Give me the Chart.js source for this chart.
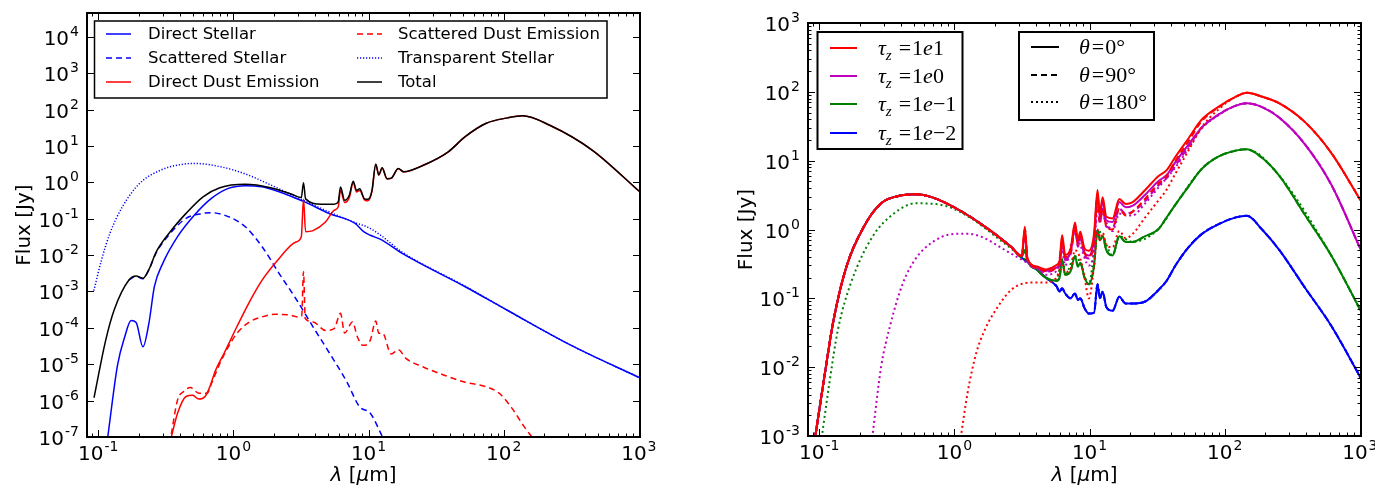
<!DOCTYPE html>
<html><head><meta charset="utf-8">
<script src="https://cdn.jsdelivr.net/npm/chart.js@4.4.1/dist/chart.umd.min.js"></script>
<style>
html,body{margin:0;padding:0;background:#fff;}
#wrap{position:relative;width:1375px;height:488px;overflow:hidden;background:#fff;}
canvas{position:absolute;top:0;}
</style></head><body>
<div id="wrap">
<canvas id="c1" width="660" height="488" style="left:0px"></canvas>
<canvas id="c2" width="685" height="488" style="left:690px"></canvas>
</div>
<script>
// ---------------- axis ranges & tick labels ----------------
const xRange = [0.0825, 1020];
const yRangeL = [1e-7, 4.5e4];
const yRangeR = [1e-3, 1e3];
const xTickExp = [-1, 0, 1, 2, 3];
const yTickExpL = [-7, -6, -5, -4, -3, -2, -1, 0, 1, 2, 3, 4];
const yTickExpR = [-3, -2, -1, 0, 1, 2, 3];
const xTitle = ['λ', ' [', 'μ', 'm]'];
const yTitle = 'Flux [Jy]';

// ---------------- left panel data ----------------
const legendNamesL = ['Direct Stellar', 'Scattered Stellar', 'Direct Dust Emission',
                      'Scattered Dust Emission', 'Transparent Stellar', 'Total'];

const wlDirStar = [0.1175, 0.1388, 0.157, 0.175, 0.1905, 0.214, 0.2366, 0.26, 0.30, 0.386, 0.515, 0.687, 0.917, 1.224, 1.63, 2.52, 3.36, 5.17, 7.95, 9.2, 10.3, 12.3, 17.6, 51.9, 107, 316, 1020];
const fxDirStar = [1e-7, 9.5e-6, 5.7e-5, 1.58e-4, 1.4e-4, 3.0e-5, 1.3e-4, 1.35e-3, 5.9e-3, 0.032, 0.126, 0.36, 0.68, 0.81, 0.75, 0.45, 0.29, 0.137, 0.074, 0.044, 0.035, 0.027, 0.0113, 1.35e-3, 3.0e-4, 3.3e-5, 4.2e-6];

const wlScaStar = [0.1686, 0.1905, 0.214, 0.2366, 0.269, 0.334, 0.446, 0.596, 0.687, 0.917, 1.224, 1.63, 2.18, 2.9, 3.88, 5.17, 6.9, 8.57, 10.3, 12.7];
const fxScaStar = [2.07e-3, 2.6e-3, 2.25e-3, 3.9e-3, 0.0118, 0.036, 0.102, 0.14, 0.146, 0.114, 0.06, 0.017, 3.1e-3, 6.3e-4, 1.07e-4, 1.95e-5, 3.3e-6, 6.8e-7, 4.5e-7, 1e-7];

const wlDirDust = [0.347, 0.386, 0.446, 0.50, 0.554, 0.617, 0.663, 0.739, 0.853, 1.06, 1.315, 1.63, 2.18, 2.9, 3.18, 3.3, 3.42, 3.88, 4.8, 5.56, 5.96, 6.2, 6.65, 7.2, 7.7, 8.15, 8.6, 9.34, 9.9, 10.6, 11.3, 11.9, 12.6, 13.7, 14.7, 16.6, 18.2, 25.2, 38.9, 51.9, 74.3, 107, 137.5, 219, 451, 1020];
const fxDirDust = [1e-7, 4.5e-7, 1.3e-6, 1.4e-6, 1.1e-6, 1.3e-6, 2.2e-6, 6.9e-6, 2.0e-5, 1.07e-4, 5.2e-4, 2.05e-3, 8.1e-3, 0.023, 0.032, 0.34, 0.044, 0.047, 0.081, 0.17, 0.21, 0.60, 0.28, 0.38, 0.98, 0.54, 0.60, 0.33, 0.31, 0.56, 3.1, 1.58, 2.45, 1.24, 1.28, 2.35, 1.93, 2.9, 6.9, 18, 42, 59, 67, 37, 7.7, 0.54];

const wlScaDust = [0.347, 0.386, 0.43, 0.48, 0.554, 0.64, 0.687, 0.794, 0.917, 1.06, 1.315, 1.63, 2.03, 2.52, 3.01, 3.2, 3.3, 3.4, 3.88, 4.8, 5.56, 6.2, 6.65, 7.6, 8.27, 9.1, 10.3, 11.3, 11.9, 12.7, 14.7, 16.6, 18.9, 25.2, 36.3, 51.9, 74.3, 92.5, 115, 142, 162];
const fxScaDust = [1.2e-7, 1.05e-6, 1.8e-6, 2.3e-6, 1.6e-6, 1.6e-6, 2.9e-6, 1.05e-5, 3.0e-5, 7.0e-5, 1.45e-4, 2.0e-4, 2.35e-4, 2.3e-4, 2.0e-4, 2.1e-4, 3.5e-3, 1.8e-4, 1.45e-4, 8.5e-5, 9.5e-5, 2.5e-4, 7.2e-5, 1.45e-4, 5.6e-5, 3.3e-5, 4.6e-5, 1.55e-4, 7.1e-5, 7.1e-5, 1.9e-5, 2.5e-5, 1.45e-5, 8.5e-6, 5e-6, 3.2e-6, 2.4e-6, 1.6e-6, 6.2e-7, 1.9e-7, 1e-7];

const wlTrans = [0.0927, 0.1055, 0.122, 0.151, 0.202, 0.29, 0.386, 0.515, 0.794, 1.224, 1.885, 2.9, 4.48, 7.95, 9.9, 12.3, 17.6, 51.9, 107, 316, 1020];
const fxTrans = [1.05e-3, 7.2e-3, 0.0398, 0.214, 0.93, 2.17, 2.97, 3.3, 2.7, 1.7, 0.85, 0.40, 0.19, 0.078, 0.058, 0.035, 0.0123, 1.4e-3, 3.0e-4, 3.3e-5, 4.2e-6];

const wlTotal = [0.093, 0.1135, 0.131, 0.1686, 0.1905, 0.214, 0.2366, 0.269, 0.334, 0.446, 0.596, 0.794, 1.224, 1.885, 2.70, 3.18, 3.3, 3.42, 4.48, 5.56, 5.96, 6.2, 6.65, 7.2, 7.7, 8.15, 8.6, 9.34, 9.9, 10.6, 11.3, 11.9, 12.6, 13.7, 14.7, 16.6, 18.2, 25.2, 38.9, 51.9, 74.3, 107, 137.5, 219, 451, 1020];
const fxTotal = [1.2e-6, 4.6e-5, 3.1e-4, 2.07e-3, 2.66e-3, 2.3e-3, 4.0e-3, 0.0124, 0.0398, 0.140, 0.40, 0.71, 0.88, 0.71, 0.47, 0.38, 0.98, 0.35, 0.25, 0.25, 0.29, 0.74, 0.32, 0.44, 1.07, 0.60, 0.66, 0.35, 0.34, 0.60, 3.2, 1.6, 2.5, 1.26, 1.3, 2.4, 1.95, 2.9, 6.9, 18, 42, 59, 67, 37, 7.7, 0.54];

// ---------------- right panel data ----------------
const tauLabels = ['1e1', '1e0', '1e−1', '1e−2'];
const thetaLabels = ['0', '90', '180'];

const wlR = [0.0935, 0.11, 0.1274, 0.159, 0.2137, 0.287, 0.386, 0.518, 0.695, 1.08, 1.68, 2.62, 3.15, 3.32, 3.47, 4.08, 4.73, 5.69, 6.0, 6.26, 6.6, 7.25, 7.8, 8.2, 8.53, 9.18, 9.88, 10.8, 11.45, 11.9, 12.5, 13.3, 14.8, 16.6, 18.5, 20.7, 25.8, 32.1, 37.2, 43.2, 53.9, 67.2, 90.3, 121, 146, 189, 254, 395, 614, 1020];
const fxTau1e1 = [1.0e-3, 8.1e-3, 0.048, 0.29, 1.1, 2.4, 3.07, 3.24, 2.9, 1.92, 1.1, 0.56, 0.41, 1.1, 0.38, 0.29, 0.263, 0.305, 0.35, 0.83, 0.43, 0.53, 1.26, 0.71, 0.93, 0.53, 0.49, 0.88, 3.75, 1.72, 2.93, 1.53, 1.45, 2.77, 2.35, 2.48, 3.75, 5.9, 7.3, 11.4, 21, 39, 61, 85, 97, 85, 68, 36, 13, 2.6];
const fxTau1e1_90 = [1.0e-3, 8.1e-3, 0.048, 0.29, 1.1, 2.4, 3.07, 3.24, 2.9, 1.92, 1.1, 0.56, 0.41, 1.0, 0.37, 0.28, 0.25, 0.28, 0.33, 0.7, 0.4, 0.48, 1.1, 0.6, 0.8, 0.45, 0.4, 0.7, 3.0, 1.3, 2.0, 1.1, 1.0, 2.0, 1.6, 1.8, 2.8, 4.6, 6.0, 10, 19, 37, 60, 85, 97, 85, 68, 36, 13, 2.6];
const fxTau1e0 = [1.0e-3, 8.1e-3, 0.048, 0.29, 1.1, 2.4, 3.07, 3.24, 2.9, 1.92, 1.1, 0.56, 0.41, 0.9, 0.37, 0.28, 0.25, 0.28, 0.31, 0.70, 0.38, 0.47, 1.12, 0.62, 0.82, 0.46, 0.42, 0.75, 3.3, 1.5, 2.6, 1.35, 1.28, 2.5, 2.1, 2.2, 3.2, 5.0, 6.2, 9.5, 17, 30, 47, 63, 68, 60, 42, 17, 4.5, 0.5];
const fxTau1e0_90 = [1.0e-3, 8.1e-3, 0.048, 0.29, 1.1, 2.4, 3.07, 3.24, 2.9, 1.92, 1.1, 0.56, 0.41, 0.85, 0.36, 0.27, 0.24, 0.27, 0.3, 0.62, 0.36, 0.44, 1.0, 0.56, 0.74, 0.42, 0.38, 0.65, 2.6, 1.2, 2.0, 1.1, 1.05, 2.0, 1.7, 1.8, 2.6, 4.3, 5.6, 8.5, 16, 30, 47, 63, 68, 60, 42, 17, 4.5, 0.5];
const fxTau1em1 = [1.0e-3, 8.1e-3, 0.048, 0.29, 1.1, 2.4, 3.07, 3.24, 2.9, 1.92, 1.1, 0.56, 0.40, 0.5, 0.35, 0.26, 0.2, 0.18, 0.2, 0.37, 0.22, 0.25, 0.41, 0.29, 0.33, 0.2, 0.16, 0.3, 0.98, 0.7, 0.8, 0.5, 0.42, 0.8, 0.66, 0.66, 0.8, 1.0, 1.5, 2.3, 4.2, 7.5, 11.5, 14, 14.6, 11, 6, 1.6, 0.42, 0.065];
const fxTau1em2 = [1.0e-3, 8.1e-3, 0.048, 0.29, 1.1, 2.4, 3.07, 3.24, 2.9, 1.92, 1.1, 0.56, 0.39, 0.36, 0.34, 0.26, 0.2, 0.15, 0.125, 0.14, 0.118, 0.1, 0.118, 0.095, 0.1, 0.072, 0.06, 0.062, 0.16, 0.1, 0.125, 0.075, 0.066, 0.105, 0.084, 0.084, 0.09, 0.13, 0.18, 0.3, 0.55, 0.85, 1.2, 1.5, 1.58, 1.0, 0.5, 0.14, 0.04, 6.9e-3];

const wlTau1e1_180 = [1.1, 1.25, 1.45, 1.68, 2.1, 2.62, 3.27, 4.08, 4.73, 5.69, 6.26, 6.6, 7.25, 7.8, 8.53, 9.18, 9.88, 10.8, 11.45, 11.9, 12.5, 13.3, 14.8, 16.6, 18.5, 20.7, 25.8, 32.1, 37.2, 43.2, 53.9, 67.2, 90.3, 121, 146, 189, 254, 395, 614, 1020];
const fxTau1e1_180 = [8e-4, 4.2e-3, 0.016, 0.035, 0.076, 0.132, 0.165, 0.17, 0.17, 0.2, 0.3, 0.24, 0.27, 0.5, 0.38, 0.2, 0.1, 0.3, 1.0, 0.7, 0.9, 0.6, 0.55, 0.95, 0.75, 0.85, 1.5, 2.6, 3.8, 6.5, 14, 30, 56, 85, 97, 85, 68, 36, 13, 2.6];
const wlTau1e0_180 = [0.244, 0.287, 0.333, 0.415, 0.518, 0.695, 0.934, 1.25, 1.68, 2.26, 3.03, 4.08, 4.73, 5.69, 6.26, 6.6, 7.8, 8.53, 9.88, 10.8, 11.45, 12.5, 14.8, 16.6, 20.7, 25.8, 32.1, 43.2, 53.9, 67.2, 90.3, 121, 146, 189, 254, 395, 614, 1020];
const fxTau1e0_180 = [8e-4, 0.0102, 0.039, 0.165, 0.38, 0.665, 0.85, 0.87, 0.745, 0.53, 0.38, 0.27, 0.22, 0.25, 0.5, 0.3, 0.9, 0.6, 0.3, 0.5, 2.0, 1.6, 0.95, 1.7, 1.6, 2.4, 4.0, 8.0, 15, 29, 46, 63, 68, 60, 42, 17, 4.5, 0.5];
const wlTau1em1_180 = [0.103, 0.1186, 0.1374, 0.171, 0.248, 0.358, 0.518, 0.805, 1.25, 2.26, 3.15, 4.08, 4.73, 5.69, 6.26, 6.6, 7.8, 8.53, 9.88, 11.45, 12.5, 14.8, 16.6, 20.7, 32.1, 43.2, 67.2, 90.3, 146, 254, 614, 1020];
const fxTau1em1_180 = [8e-4, 5.8e-3, 0.035, 0.165, 0.79, 1.72, 2.4, 2.27, 1.57, 0.665, 0.40, 0.26, 0.2, 0.18, 0.37, 0.22, 0.41, 0.33, 0.16, 0.98, 0.8, 0.42, 0.8, 0.66, 1.0, 2.3, 7.5, 11.5, 14.6, 6, 0.42, 0.065];

// ---------------- helpers ----------------
function pts(xs, ys) {
  const n = Math.min(xs.length, ys.length), out = [];
  for (let i = 0; i < n; i++) out.push({x: xs[i], y: ys[i]});
  return out;
}
const SANS = '"DejaVu Sans", "Liberation Sans", sans-serif';
const SERIF = '"Liberation Serif", "DejaVu Serif", serif';

function logTicks(min, max, minor) {
  const out = [];
  for (let e = Math.floor(Math.log10(min)); e <= Math.ceil(Math.log10(max)); e++) {
    for (let m = 1; m <= 9; m++) {
      if (!minor && m > 1) break;
      const v = m * Math.pow(10, e);
      if (v >= min * 0.9999 && v <= max * 1.0001) out.push({v, major: m === 1});
    }
  }
  return out;
}
function drawPow(ctx, exp, x, y, align) {
  const es = String(exp);
  ctx.font = '20px ' + SANS; const wb = ctx.measureText('10').width;
  ctx.font = '14px ' + SANS; const ws = ctx.measureText(es).width;
  const w = wb + 1 + ws;
  const x0 = align === 'right' ? x - w : x - w / 2;
  ctx.textAlign = 'left'; ctx.textBaseline = 'alphabetic';
  ctx.font = '20px ' + SANS; ctx.fillText('10', x0, y);
  ctx.font = '14px ' + SANS; ctx.fillText(es, x0 + wb + 1, y - 9);
}
function drawRich(ctx, parts, x, y, align) {
  let w = 0;
  parts.forEach(p => { ctx.font = p.f; p.w = ctx.measureText(p.t).width; w += p.w + (p.gap || 0); });
  let cx = align === 'center' ? x - w / 2 : x;
  ctx.textAlign = 'left';
  parts.forEach(p => { ctx.font = p.f; ctx.fillText(p.t, cx, y + (p.dy || 0)); cx += p.w + (p.gap || 0); });
}
function handle(ctx, x1, x2, y, color, dash, lw) {
  ctx.save(); ctx.strokeStyle = color; ctx.lineWidth = lw; ctx.setLineDash(dash);
  ctx.beginPath(); ctx.moveTo(x1, y); ctx.lineTo(x2, y); ctx.stroke(); ctx.restore();
}
function box(ctx, x1, y1, x2, y2, lw) {
  ctx.save(); ctx.fillStyle = '#fff'; ctx.fillRect(x1, y1, x2 - x1, y2 - y1);
  ctx.strokeStyle = '#000'; ctx.lineWidth = lw; ctx.setLineDash([]);
  ctx.strokeRect(x1, y1, x2 - x1, y2 - y1); ctx.restore();
}

function decoPlugin(cfg) {
  return {
    id: 'deco' + cfg.name,
    afterDraw(chart) {
      const ctx = chart.ctx, a = chart.chartArea, xs = chart.scales.x, ys = chart.scales.y;
      ctx.save();
      ctx.strokeStyle = '#000'; ctx.lineWidth = 1; ctx.setLineDash([]);
      const seg = (x1, y1, x2, y2) => { ctx.beginPath(); ctx.moveTo(x1, y1); ctx.lineTo(x2, y2); ctx.stroke(); };
      logTicks(xRange[0], xRange[1], true).forEach(t => {
        const p = Math.round(xs.getPixelForValue(t.v)) + 0.5, L = t.major ? 7 : 3.5;
        seg(p, a.bottom, p, a.bottom - L); seg(p, a.top, p, a.top + L);
      });
      logTicks(cfg.yr[0], cfg.yr[1], cfg.yMinor).forEach(t => {
        const p = Math.round(ys.getPixelForValue(t.v)) + 0.5, L = t.major ? 7 : 3.5;
        seg(a.left, p, a.left + L, p); seg(a.right, p, a.right - L, p);
      });
      ctx.lineWidth = 2;
      ctx.strokeRect(a.left, a.top, a.right - a.left, a.bottom - a.top);
      ctx.fillStyle = '#000';
      xTickExp.forEach(e => drawPow(ctx, e, xs.getPixelForValue(Math.pow(10, e)), a.bottom + 23, 'center'));
      cfg.yExp.forEach(e => drawPow(ctx, e, a.left - 8, ys.getPixelForValue(Math.pow(10, e)) + 8, 'right'));
      ctx.textBaseline = 'alphabetic';
      const fN = '20px ' + SANS, fI = 'italic 20px ' + SANS;
      drawRich(ctx, [{t: xTitle[0], f: fI}, {t: xTitle[1], f: fN}, {t: xTitle[2], f: fI}, {t: xTitle[3], f: fN}],
               (a.left + a.right) / 2, 481, 'center');
      ctx.save();
      ctx.translate(cfg.yTitleX, (a.top + a.bottom) / 2);
      ctx.rotate(-Math.PI / 2);
      ctx.font = fN; ctx.textAlign = 'center'; ctx.fillText(yTitle, 0, 0);
      ctx.restore();
      cfg.legend(ctx);
      ctx.restore();
    }
  };
}

function makeChart(id, datasets, cfg) {
  return new Chart(document.getElementById(id), {
    type: 'line',
    data: {datasets},
    options: {
      responsive: false, animation: false, devicePixelRatio: 1,
      layout: {padding: cfg.pad},
      elements: {point: {radius: 0}, line: {cubicInterpolationMode: 'monotone', borderJoinStyle: 'round'}},
      scales: {
        x: {type: 'logarithmic', min: xRange[0], max: xRange[1], bounds: 'data',
            ticks: {display: false}, grid: {display: false}, border: {display: false},
            afterFit: s => { s.height = 0; }},
        y: {type: 'logarithmic', min: cfg.yr[0], max: cfg.yr[1], bounds: 'data',
            ticks: {display: false}, grid: {display: false}, border: {display: false},
            afterFit: s => { s.width = 0; }}
      },
      plugins: {legend: {display: false}, tooltip: {enabled: false}}
    },
    plugins: [decoPlugin(cfg)]
  });
}

// ---------------- left chart ----------------
const stylesL = [
  {c: '#0000ff', d: []}, {c: '#0000ff', d: [6, 4]}, {c: '#ff0000', d: []},
  {c: '#ff0000', d: [6, 4]}, {c: '#0000ff', d: [1.2, 1.8]}, {c: '#000000', d: []}
];
const seriesL = [[wlDirStar, fxDirStar], [wlScaStar, fxScaStar], [wlDirDust, fxDirDust],
                 [wlScaDust, fxScaDust], [wlTrans, fxTrans], [wlTotal, fxTotal]];
const dsL = seriesL.map((s, i) => ({
  label: legendNamesL[i], data: pts(s[0], s[1]), borderColor: stylesL[i].c,
  borderDash: stylesL[i].d, borderWidth: 1.5, pointRadius: 0, fill: false,
  cubicInterpolationMode: 'monotone', order: seriesL.length - i
}));
makeChart('c1', dsL, {
  name: 'L', pad: {left: 87, top: 13, right: 20, bottom: 51}, yr: yRangeL, yMinor: false,
  yExp: yTickExpL, yTitleX: 30,
  legend(ctx) {
    box(ctx, 94.5, 21, 607, 98, 1.5);
    const rows = [34, 58, 82];
    for (let i = 0; i < 6; i++) {
      const col = Math.floor(i / 3), r = rows[i % 3];
      const hx = col ? 357 : 106, tx = col ? 398 : 148;
      handle(ctx, hx, hx + 25, r, stylesL[i].c, stylesL[i].d, 1.5);
      ctx.fillStyle = '#000'; ctx.font = '16.5px ' + SANS; ctx.textBaseline = 'middle'; ctx.textAlign = 'left';
      ctx.fillText(legendNamesL[i], tx, r + 1);
    }
  }
});

// ---------------- right chart ----------------
const tauColors = ['#ff0000', '#bf00bf', '#008000', '#0000ff'];
const thetaDash = [[], [6, 4], [2, 3]];
// drawing order bottom -> top : [tau index, theta index, wavelengths, fluxes]
const seriesR = [
  [3, 2, wlR, fxTau1em2], [3, 1, wlR, fxTau1em2], [3, 0, wlR, fxTau1em2],
  [2, 2, wlTau1em1_180, fxTau1em1_180], [2, 1, wlR, fxTau1em1], [2, 0, wlR, fxTau1em1],
  [1, 2, wlTau1e0_180, fxTau1e0_180], [1, 1, wlR, fxTau1e0_90], [1, 0, wlR, fxTau1e0],
  [0, 2, wlTau1e1_180, fxTau1e1_180], [0, 1, wlR, fxTau1e1_90], [0, 0, wlR, fxTau1e1]
];
const dsR = seriesR.map((s, i) => ({
  label: 'tau' + s[0] + '_th' + s[1], data: pts(s[2], s[3]), borderColor: tauColors[s[0]],
  borderDash: thetaDash[s[1]], borderWidth: 2, pointRadius: 0, fill: false,
  cubicInterpolationMode: 'monotone', order: seriesR.length - i
}));
makeChart('c2', dsR, {
  name: 'R', pad: {left: 118, top: 23, right: 14, bottom: 52}, yr: yRangeR, yMinor: true,
  yExp: yTickExpR, yTitleX: 752 - 690,
  legend(ctx) {
    const L0 = 690;
    box(ctx, 817.5 - L0, 32, 962.5 - L0, 149, 2);
    const rows1 = [48, 76, 104, 133];
    const fI = 'italic 22px ' + SERIF, fN = '22px ' + SERIF, fS = 'italic 15px ' + SERIF;
    ctx.textBaseline = 'middle';
    tauLabels.forEach((lab, i) => {
      handle(ctx, 830 - L0, 857 - L0, rows1[i], tauColors[i], [], 2);
      const parts = [{t: 'τ', f: fI}, {t: 'z', f: fS, dy: 7, gap: 7}, {t: '=', f: fN, gap: 1}];
      for (const ch of lab) parts.push({t: ch, f: ch === 'e' ? fI : fN});
      ctx.fillStyle = '#000'; ctx.textBaseline = 'middle';
      drawRich(ctx, parts, 878 - L0, rows1[i] + 1, 'left');
    });
    box(ctx, 1019 - L0, 32, 1154 - L0, 120, 2);
    const rows2 = [47, 75, 102];
    thetaLabels.forEach((lab, i) => {
      handle(ctx, 1031 - L0, 1059 - L0, rows2[i], '#000', thetaDash[i], 2);
      const parts = [{t: 'θ', f: fI, gap: 2}, {t: '=', f: fN, gap: 1}, {t: lab, f: fN}, {t: '°', f: fN}];
      ctx.fillStyle = '#000'; ctx.textBaseline = 'middle';
      drawRich(ctx, parts, 1079 - L0, rows2[i] + 1, 'left');
    });
  }
});
</script>
</body></html>
